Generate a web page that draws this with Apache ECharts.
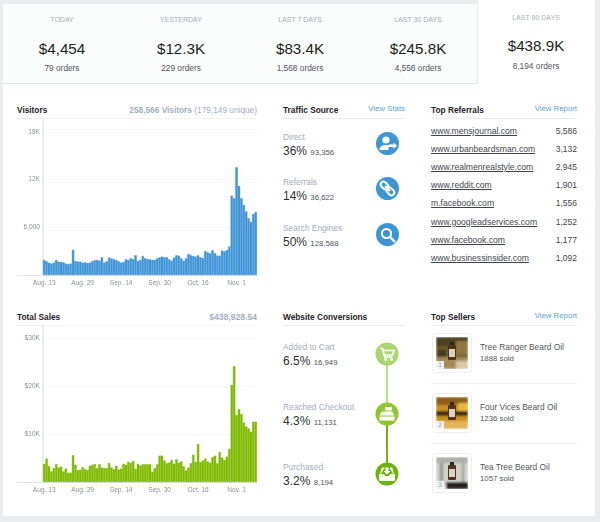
<!DOCTYPE html>
<html>
<head>
<meta charset="utf-8">
<title>Store dashboard</title>
<script src="https://cdn.jsdelivr.net/npm/echarts@6/dist/echarts.min.js"></script>
<style>
html, body { margin: 0; padding: 0; width: 600px; height: 522px; overflow: hidden; background: #e9edf0; font-family: "Liberation Sans", Arial, sans-serif; }
#panel { position: absolute; left: 3px; top: 4px; width: 592px; height: 512px; background: #fff; }
#band { position: absolute; left: 3px; top: 5px; width: 475px; height: 79px; background: #fbfcfc; border-bottom: 1px solid #e4e8eb; border-right: 1px solid #e4e8eb; box-sizing: border-box; }
#tab { position: absolute; left: 478px; top: 0; width: 117px; height: 84px; background: #fff; }
.t { position: absolute; white-space: nowrap; }
.rule { position: absolute; height: 1px; background: #e9ecef; }
.chart { position: absolute; width: 240px; height: 180px; }
.head { font-weight: bold; font-size: 8.3px; color: #1e2226; }
.link { font-size: 7.8px; color: #5a9fd6; }
.muted { font-size: 8.4px; color: #a3adbd; }
svg { position: absolute; }
</style>
</head>
<body>
<div id="panel"></div>
<div id="band"></div>
<div id="tab"></div>
<div id="main"></div>
<div class="chart" id="visitorsChart" style="left:17px;top:118px"></div>
<div class="chart" id="salesChart" style="left:17px;top:325px"></div>
<script>
// top row
var kpiLabels = ['TODAY', 'YESTERDAY', 'LAST 7 DAYS', 'LAST 30 DAYS', 'LAST 90 DAYS'];
var kpiValues = ['$4,454', '$12.3K', '$83.4K', '$245.8K', '$438.9K'];
var kpiOrders = ['79 orders', '229 orders', '1,568 orders', '4,556 orders', '8,194 orders'];

// bar charts, one value per day from Aug. 13
var visitors = [1890, 1720, 1550, 1430, 1550, 1890, 1680, 1640, 1590, 1430,
    1380, 1430, 3150, 1760, 1680, 1680, 1550, 1590, 1510, 1550,
    1760, 1850, 1890, 1800, 2220, 1550, 1720, 2180, 2100, 1970,
    1890, 1720, 1550, 1640, 1970, 1890, 2100, 2010, 2480, 1760,
    1890, 2390, 2100, 2010, 1970, 1890, 1890, 2100, 2220, 2310,
    2220, 2220, 1970, 1800, 2180, 2480, 2430, 2100, 1800, 2100,
    2640, 2480, 2390, 2310, 2480, 2220, 2140, 3020, 2850, 2730,
    3100, 2730, 2430, 2430, 3060, 2980, 3150, 3570, 9990, 9650,
    13550, 11200, 9650, 8810, 8010, 7130, 6670, 7680, 7930];
var sales = [3800, 4900, 3300, 2200, 2900, 3750, 3050, 3200, 2200, 2800,
    1900, 1950, 5600, 3600, 2500, 2550, 3100, 2700, 2500, 3400,
    3600, 3750, 2900, 3700, 3000, 2900, 2900, 3950, 3050, 2700,
    3400, 2600, 2800, 3800, 3600, 4200, 4000, 4400, 2750, 3800,
    3450, 3700, 3700, 3700, 3700, 2150, 2900, 3700, 5500, 5500,
    4450, 3900, 4050, 4600, 3800, 4750, 4050, 4300, 3300, 2400,
    3000, 3900, 5700, 4200, 7900, 4200, 4500, 4900, 4300, 4000,
    5200, 5500, 3900, 6250, 5100, 4600, 5300, 6900, 20300, 24200,
    14000, 15200, 14200, 12400, 11600, 11200, 10500, 12600, 12600];
var dateTicks = ['Aug. 13', 'Aug. 29', 'Sep. 14', 'Sep. 30', 'Oct. 16', 'Nov. 1'];
var visitorTicks = {6000: '6,000', 12000: '12K', 18000: '18K'};
var salesTicks = {10000: '$10K', 20000: '$20K', 30000: '$30K'};

// traffic source
var trafficNames = ['Direct', 'Referrals', 'Search Engines'];
var trafficPct = ['36%', '14%', '50%'];
var trafficCounts = ['93,356', '36,622', '128,588'];

// top referrals
var referralSites = ['www.mensjournal.com', 'www.urbanbeardsman.com', 'www.realmenrealstyle.com', 'www.reddit.com',
    'm.facebook.com', 'www.googleadservices.com', 'www.facebook.com', 'www.businessinsider.com'];
var referralCounts = ['5,586', '3,132', '2,945', '1,901', '1,556', '1,252', '1,177', '1,092'];

// conversions
var convNames = ['Added to Cart', 'Reached Checkout', 'Purchased'];
var convPct = ['6.5%', '4.3%', '3.2%'];
var convCounts = ['16,949', '11,131', '8,194'];

// top sellers
var sellerNames = ['Tree Ranger Beard Oil', 'Four Vices Beard Oil', 'Tea Tree Beard Oil'];
var sellerSold = ['1888 sold', '1236 sold', '1057 sold'];

var main = document.getElementById('main');

// y is the text's vertical centre
function txt(x, y, str, cls, css, align) {
    var d = document.createElement('div');
    d.className = 't ' + (cls || '');
    d.textContent = str;
    d.style.cssText = 'top:' + (y - 10) + 'px;line-height:20px;' + (css || '');
    if (align == 'right') {
        d.style.right = (600 - x) + 'px';
    } else if (align == 'center') {
        d.style.left = x + 'px';
        d.style.transform = 'translateX(-50%)';
    } else {
        d.style.left = x + 'px';
    }
    main.appendChild(d);
    return d;
}
function rule(x1, x2, y, color) {
    var d = document.createElement('div');
    d.className = 'rule';
    d.style.cssText = 'left:' + x1 + 'px;width:' + (x2 - x1) + 'px;top:' + y + 'px;' + (color ? 'background:' + color : '');
    main.appendChild(d);
}
function svg(x, y, w, h, inner) {
    var s = document.createElement('div');
    s.innerHTML = '<svg xmlns="http://www.w3.org/2000/svg" style="left:' + x + 'px;top:' + y + 'px" width="' + w + '" height="' + h + '" viewBox="0 0 ' + w + ' ' + h + '">' + inner + '</svg>';
    main.appendChild(s);
}

// top row
var kpiX = [62, 181, 300, 418, 536];
for (var i = 0; i < 5; i++) {
    var dy = i == 4 ? -2 : 0;
    txt(kpiX[i], 20 + dy, kpiLabels[i], '', 'font-size:7px;color:#a5adba', 'center');
    txt(kpiX[i], 49 + dy - (i == 4 ? 1 : 0), kpiValues[i], '', 'font-size:15.2px;color:#1c1f22', 'center');
    txt(kpiX[i], 68 + dy, kpiOrders[i], '', 'font-size:8.3px;color:#50555b', 'center');
}

// headers
txt(17, 110, 'Visitors', 'head');
var vh = txt(257, 110, '', '', 'font-size:8.3px;color:#a3afc2', 'right');
vh.innerHTML = '<b>258,566 Visitors</b> (179,149 unique)';
rule(17, 257, 118);
txt(17, 317, 'Total Sales', 'head');
txt(257, 317, '$438,928.54', '', 'font-size:8.6px;font-weight:bold;color:#a3afc2', 'right');
rule(17, 257, 325);
rule(17, 43, 275, '#dfe3e7');
rule(17, 43, 482, '#dfe3e7');

txt(283, 110, 'Traffic Source', 'head');
txt(405, 109, 'View Stats', 'link', '', 'right');
rule(283, 405, 118);
txt(431, 110, 'Top Referrals', 'head');
txt(577, 109, 'View Report', 'link', '', 'right');
rule(431, 577, 118);
txt(283, 317, 'Website Conversions', 'head');
rule(283, 405, 325);
txt(431, 317, 'Top Sellers', 'head');
txt(577, 316, 'View Report', 'link', '', 'right');
rule(431, 577, 325);

function statBlock(y, name, pct, count) {
    txt(283, y, name, 'muted');
    var s = txt(283, y + 13.5, '', '', 'font-size:12px;color:#2c3034');
    s.innerHTML = pct + ' <span style="font-size:7.8px;color:#50555b">' + count + '</span>';
}

// traffic source
var trafficY = [137, 182, 228];
var trafficIcons = [
    '<circle cx="10" cy="8" r="3.6" fill="#fff"/><path d="M3.5 18c0-3.5 2.5-5 6.5-5 2 0 3.500.3 4.500 1v1h-2v3z" fill="#fff"/><path d="M13 12.500h4.500v-2l3.500 3.200-3.500 3.200v-2H13z" fill="#fff"/>',
    '<g transform="rotate(45 11.500 11.500)" fill="none" stroke="#fff" stroke-width="2"><rect x="3" y="8.700" width="8.500" height="5.600" rx="2.800"/><rect x="11.500" y="8.700" width="8.500" height="5.600" rx="2.800"/><path d="M8 11.500h7"/></g>',
    '<circle cx="10.500" cy="10.500" r="4.600" fill="none" stroke="#fff" stroke-width="2"/><path d="M14 14l4.300 4.300" stroke="#fff" stroke-width="2.400" stroke-linecap="round"/>'
];
for (var i = 0; i < 3; i++) {
    statBlock(trafficY[i], trafficNames[i], trafficPct[i], trafficCounts[i]);
    svg(375.5, trafficY[i] - 5.5, 23, 23, '<circle cx="11.500" cy="11.500" r="11.500" fill="#3d96d4"/>' + trafficIcons[i]);
}

// referrals
for (var i = 0; i < referralSites.length; i++) {
    var ry = 131 + i * 18.1;
    txt(431, ry, referralSites[i], '', 'font-size:8.6px;color:#41464c;text-decoration:underline');
    txt(577, ry, referralCounts[i], '', 'font-size:8.5px;color:#41464c', 'right');
}

// conversions funnel
var convY = [347, 407, 467];
var convColors = ['#aad56f', '#8ec72c', '#6cb30c'];
var convIcons = [
    '<path d="M5 6.500h2.500l2.200 8.500h8M8 8.500h11l-1.500 4.500H9.200" fill="none" stroke="#fff" stroke-width="1.700"/><circle cx="10.500" cy="17.500" r="1.400" fill="#fff"/><circle cx="16.500" cy="17.500" r="1.400" fill="#fff"/>',
    '<rect x="10" y="5" width="7" height="3.500" fill="#fff"/><path d="M7 9.500h10l2.500 4H4.500z" fill="#fff"/><rect x="4.500" y="14.500" width="15" height="4" fill="#fff"/>',
    '<path d="M5.500 12l1.500-6h2.500M18.500 12l-1.500-6h-2.500M4.500 12.500h4.500l1 2h4l1-2h4.500v6h-15z" fill="#fff" stroke="#fff" stroke-width=".8"/><path d="M10.500 5.500h3v3.500h2l-3.500 3.500L8.500 9h2z" fill="#fff"/>'
];
svg(385.500, 353, 3, 60, '<rect width="2" height="60" fill="#b9de83"/>');
svg(385.500, 413, 3, 60, '<rect width="2" height="60" fill="#6cb30c"/>');
for (var i = 0; i < 3; i++) {
    statBlock(convY[i], convNames[i], convPct[i], convCounts[i]);
    svg(375, convY[i] - 5.5, 24, 24, '<circle cx="12" cy="12" r="11.500" fill="' + convColors[i] + '"/>' + convIcons[i]);
}

// seller thumbnails, small hand drawn stand-ins for the product photos
var thumbBg = [
    '<rect width="32" height="32" fill="#6b5a2c"/><rect width="32" height="9" fill="#4b4122"/><rect x="20" y="4" width="12" height="14" fill="#8e7a3e"/><rect y="20" width="32" height="12" fill="#a58a58"/><rect x="2" y="13" width="8" height="7" fill="#3f3a1e"/><rect x="20" y="24" width="12" height="8" fill="#d9c7a5"/>',
    '<rect width="32" height="32" fill="#c9921f"/><rect width="32" height="8" fill="#8e5f14"/><rect x="22" y="6" width="10" height="10" fill="#e8b93a"/><rect y="14" width="32" height="5" fill="#3d2a12"/><rect y="24" width="32" height="8" fill="#e3b45a"/>',
    '<rect width="32" height="32" fill="#cfd0cb"/><rect x="4" y="2" width="3" height="22" fill="#8f8f8b"/><rect x="26" y="3" width="2" height="22" fill="#9a9a95"/><rect width="32" height="6" fill="#aeafaa"/><rect x="10" y="25" width="22" height="7" fill="#2a231c"/><rect y="27" width="10" height="5" fill="#e6e6e2"/>'
];
var thumbY = [333, 393, 453];
for (var i = 0; i < 3; i++) {
    var th = thumbY[i];
    svg(431.500, th, 40, 40, '<defs><filter id="soft' + i + '" x="0" y="0" width="1" height="1"><feGaussianBlur stdDeviation="1"/></filter><clipPath id="clip' + i + '"><rect width="32" height="32"/></clipPath></defs>' +
        '<rect x=".5" y=".5" width="39" height="39" rx="3" fill="#fff" stroke="#eceef0"/>' +
        '<g transform="translate(4 4)" clip-path="url(#clip' + i + ')"><g filter="url(#soft' + i + ')">' + thumbBg[i] + '</g>' +
        '<rect x="14" y="5" width="4" height="3" fill="#2b2520"/><rect x="12" y="8" width="8" height="15" rx="1" fill="#54331b"/><rect x="13" y="12" width="6" height="8" fill="#d9d3c6"/>' +
        '<rect x="0" y="24" width="8" height="8" fill="#f1f2f4"/></g>');
    txt(440, th + 32, String(i + 1), '', 'font-size:6.5px;color:#9aa3b0', 'center');
    txt(480, th + 14, sellerNames[i], '', 'font-size:8.4px;color:#50565c');
    txt(480, th + 26, sellerSold[i], '', 'font-size:7.8px;color:#50565c');
    if (i < 2) rule(431, 577, th + 50, '#f0f1f3');
}

// 基于准备好的dom，初始化echarts实例
function barChart(id, values, color, max, interval, ticks) {
    var myChart = echarts.init(document.getElementById(id));
    var categories = [];
    for (var i = 0; i < values.length; i++) {
        categories.push(i % 16 == 0 ? dateTicks[i / 16] : '');
    }
    myChart.setOption({
        animation: false,
        grid: {left: 26, right: 0, top: 0, height: 157},
        xAxis: {
            type: 'category',
            data: categories,
            axisLine: {lineStyle: {color: '#dfe3e7', width: 1}},
            axisTick: {alignWithLabel: true, interval: 15, length: 3, lineStyle: {color: '#e4e7ea'}},
            axisLabel: {interval: 15, margin: 5, fontSize: 6.6, color: '#88919c', fontFamily: 'Liberation Sans'}
        },
        yAxis: {
            type: 'value',
            min: 0,
            max: max,
            interval: interval,
            axisLine: {show: true, lineStyle: {color: '#eaedf0', width: 2}},
            axisTick: {show: false},
            axisLabel: {
                margin: 3, fontSize: 6.6, color: '#88919c', fontFamily: 'Liberation Sans',
                formatter: function (v) { return ticks[v] || ''; }
            },
            splitLine: {lineStyle: {color: '#f3f4f6', width: 1}}
        },
        series: [{
            type: 'bar',
            data: values,
            barCategoryGap: '0%',
            itemStyle: {color: color, borderColor: color, borderWidth: 0.4}
        }]
    });
}
barChart('visitorsChart', visitors, '#4095d6', 19750, 6000, visitorTicks);
barChart('salesChart', sales, '#7fbb00', 32800, 10000, salesTicks);
</script>
</body>
</html>
